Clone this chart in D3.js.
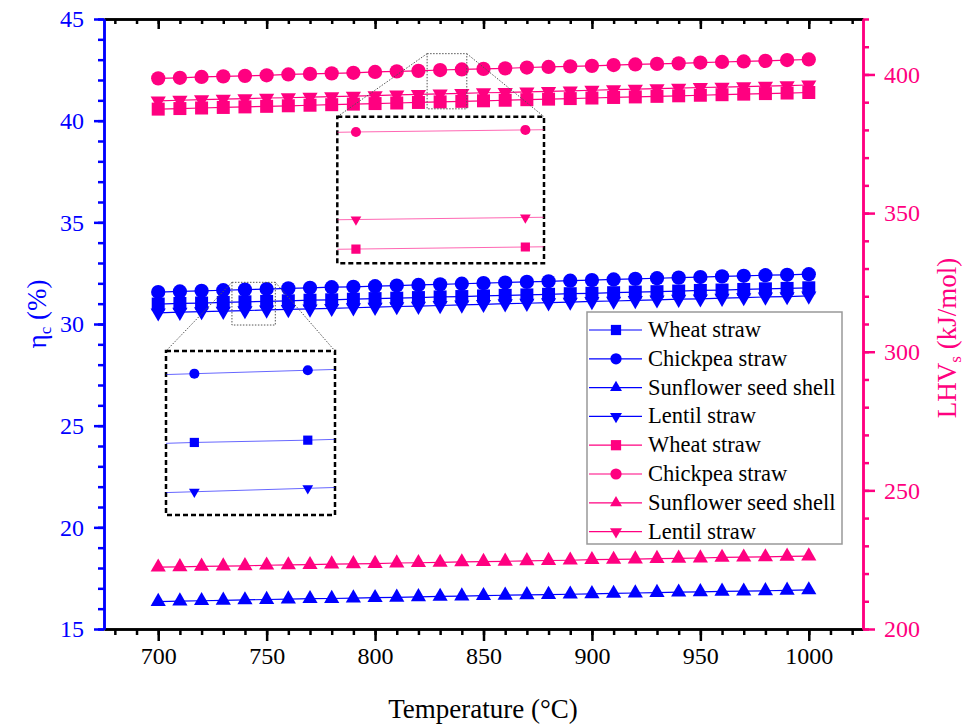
<!DOCTYPE html>
<html><head><meta charset="utf-8">
<script src="https://cdn.jsdelivr.net/npm/d3@7"></script>
<style>body{margin:0;background:#fff}svg,svg text{font-family:'Liberation Serif','Times New Roman',serif}</style>
</head><body><svg id="c" width="973" height="726"></svg>
<script>
// ---------- data ----------
const temperature = [700,710,720,730,740,750,760,770,780,790,800,810,820,830,840,850,860,870,880,890,900,910,920,930,940,950,960,970,980,990,1000];
// eta_c (%) – left axis
const etaWheat     = [30.98,31.01,31.03,31.06,31.09,31.11,31.14,31.17,31.19,31.22,31.25,31.27,31.30,31.33,31.35,31.38,31.41,31.43,31.46,31.49,31.51,31.54,31.57,31.59,31.62,31.65,31.67,31.70,31.73,31.75,31.78];
const etaChickpea  = [31.57,31.60,31.63,31.66,31.69,31.72,31.75,31.78,31.81,31.83,31.86,31.89,31.92,31.95,31.98,32.01,32.04,32.07,32.10,32.13,32.16,32.19,32.22,32.25,32.28,32.31,32.34,32.37,32.40,32.42,32.45];
const etaSunflower = [16.35,16.37,16.39,16.41,16.43,16.45,16.47,16.49,16.50,16.52,16.54,16.56,16.58,16.60,16.62,16.64,16.66,16.68,16.69,16.71,16.73,16.75,16.77,16.79,16.81,16.83,16.85,16.86,16.88,16.90,16.92];
const etaLentil    = [30.55,30.58,30.61,30.63,30.66,30.69,30.72,30.74,30.77,30.80,30.83,30.86,30.88,30.91,30.94,30.97,31.00,31.02,31.05,31.08,31.11,31.13,31.16,31.19,31.22,31.24,31.27,31.30,31.33,31.35,31.38];
// LHV_s (kJ/mol) – right axis
const lhvWheat     = [387.5,387.7,387.9,388.1,388.3,388.5,388.7,388.9,389.1,389.3,389.5,389.7,389.9,390.1,390.3,390.5,390.7,390.9,391.1,391.3,391.5,391.7,391.9,392.1,392.3,392.5,392.7,392.9,393.1,393.3,393.5];
const lhvChickpea  = [398.6,398.8,399.1,399.3,399.5,399.7,400.0,400.2,400.4,400.6,400.9,401.1,401.3,401.6,401.8,402.0,402.2,402.5,402.7,402.9,403.1,403.4,403.6,403.8,404.0,404.3,404.5,404.7,404.9,405.2,405.4];
const lhvSunflower = [222.3,222.4,222.6,222.7,222.8,223.0,223.1,223.2,223.4,223.5,223.6,223.8,223.9,224.0,224.2,224.3,224.4,224.6,224.7,224.8,225.0,225.1,225.2,225.4,225.5,225.6,225.8,225.9,226.0,226.2,226.3];
const lhvLentil    = [390.5,390.7,390.9,391.1,391.3,391.5,391.6,391.8,392.0,392.2,392.4,392.6,392.8,393.0,393.2,393.4,393.5,393.7,393.9,394.1,394.3,394.5,394.7,394.9,395.1,395.3,395.4,395.6,395.8,396.0,396.2];

const seriesNames = ["Wheat straw","Chickpea straw","Sunflower seed shell","Lentil straw"];
const seriesShapes = ["square","circle","triangle","down"];
const xTicks = [700,750,800,850,900,950,1000];
const xMinorTicks = [680,690,700,710,720,730,740,750,760,770,780,790,800,810,820,830,840,850,860,870,880,890,900,910,920,930,940,950,960,970,980,990,1000,1010,1020];
const leftTicks = [15,20,25,30,35,40,45];
const leftMinorTicks = [15,16,17,18,19,20,21,22,23,24,25,26,27,28,29,30,31,32,33,34,35,36,37,38,39,40,41,42,43,44,45];
const rightTicks = [200,250,300,350,400];
const rightMinorTicks = [200,210,220,230,240,250,260,270,280,290,300,310,320,330,340,350,360,370,380,390,400,410,420];

// ---------- setup ----------
const FONT = "'Liberation Serif','Times New Roman',serif";
const BLUE = "#0000ff", PINK = "#ff0080";
const L = 104, R = 863, T = 19, B = 629;
const svg = d3.select("#c");
const x  = d3.scaleLinear().domain([675,1025]).range([L,R]);
const yL = d3.scaleLinear().domain([15,45]).range([B,T]);
const yR = d3.scaleLinear().domain([200,420]).range([B,T]);

const blueSeries = [etaWheat, etaChickpea, etaSunflower, etaLentil].map((v,i)=>({name:seriesNames[i],shape:seriesShapes[i],values:v,color:BLUE,y:yL}));
const pinkSeries = [lhvWheat, lhvChickpea, lhvSunflower, lhvLentil].map((v,i)=>({name:seriesNames[i],shape:seriesShapes[i],values:v,color:PINK,y:yR}));
const allSeries = blueSeries.concat(pinkSeries);

function symPath(shape, scale){
  const base = {square:169, circle:160, triangle:100, down:100}[shape]*scale;
  const t = {square:d3.symbolSquare, circle:d3.symbolCircle, triangle:d3.symbolTriangle, down:d3.symbolTriangle}[shape];
  return d3.symbol().type(t).size(base)();
}
function symTransform(shape, px, py){
  return `translate(${px},${py})` + (shape==="down" ? " rotate(180)" : "");
}

// ---------- axes ----------
function styleAxis(g, color, width){
  g.attr("font-family", FONT).attr("font-size", 24);
  g.select(".domain").attr("stroke", color).attr("stroke-width", width);
  g.selectAll(".tick line").attr("stroke", color).attr("stroke-width", width);
  g.selectAll(".tick text").attr("fill", color).attr("font-family", FONT).attr("font-size",24);
}
const fmt = d3.format("d");
// bottom
const gbMinor = svg.append("g").attr("transform",`translate(0,${B})`)
  .call(d3.axisBottom(x).tickValues(xMinorTicks).tickSize(6).tickFormat("").tickSizeOuter(0));
styleAxis(gbMinor,"#000",2.5);
const gb = svg.append("g").attr("transform",`translate(0,${B})`)
  .call(d3.axisBottom(x).tickValues(xTicks).tickSize(12).tickPadding(6).tickFormat(fmt).tickSizeOuter(0));
styleAxis(gb,"#000",2.5);
// top (inward ticks)
const gtMinor = svg.append("g").attr("transform",`translate(0,${T})`)
  .call(d3.axisTop(x).tickValues(xMinorTicks).tickSize(-5).tickFormat("").tickSizeOuter(0));
styleAxis(gtMinor,"#000",2.5);
const gt = svg.append("g").attr("transform",`translate(0,${T})`)
  .call(d3.axisTop(x).tickValues(xTicks).tickSize(-10).tickFormat("").tickSizeOuter(0));
styleAxis(gt,"#000",2.5);
// left
const glMinor = svg.append("g").attr("transform",`translate(${L},0)`)
  .call(d3.axisLeft(yL).tickValues(leftMinorTicks).tickSize(6).tickFormat("").tickSizeOuter(0));
styleAxis(glMinor,BLUE,2.5);
const gl = svg.append("g").attr("transform",`translate(${L},0)`)
  .call(d3.axisLeft(yL).tickValues(leftTicks).tickSize(10).tickPadding(10).tickFormat(fmt).tickSizeOuter(0));
styleAxis(gl,BLUE,2.5);
// right
const grMinor = svg.append("g").attr("transform",`translate(${R},0)`)
  .call(d3.axisRight(yR).tickValues(rightMinorTicks).tickSize(6).tickFormat("").tickSizeOuter(0));
styleAxis(grMinor,PINK,2.5);
const gr = svg.append("g").attr("transform",`translate(${R},0)`)
  .call(d3.axisRight(yR).tickValues(rightTicks).tickSize(12).tickPadding(9).tickFormat(fmt).tickSizeOuter(0));
styleAxis(gr,PINK,2.5);

// ---------- series ----------
const gSeries = svg.append("g");
allSeries.forEach(s=>{
  const line = d3.line().x((d,i)=>x(temperature[i])).y(d=>s.y(d));
  gSeries.append("path").datum(s.values).attr("d",line).attr("fill","none")
    .attr("stroke",s.color).attr("stroke-width",1.2);
});
allSeries.forEach(s=>{
  gSeries.append("g").selectAll("path").data(s.values).join("path")
    .attr("d",symPath(s.shape,1))
    .attr("transform",(d,i)=>symTransform(s.shape,x(temperature[i]),s.y(d)))
    .attr("fill",s.color);
});

// ---------- insets ----------
const insets = [
  {id:"ib", srcX:[734,754], srcY:[29.95,32.05], yMain:yL, frame:[166,351,335,515],
   inX:[737.5,752.4], inY:[30.457,31.888], series:[blueSeries[1],blueSeries[0],blueSeries[3]]},
  {id:"ip", srcX:[824,842.3], srcY:[387.6,407.5], yMain:yR, frame:[337.3,116.7,544,263.3],
   inX:[828.9,841.1], inY:[388.7,403.1], series:[pinkSeries[1],pinkSeries[3],pinkSeries[0]]}
];
const defs = svg.append("defs");
insets.forEach(c=>{
  const g = svg.append("g");
  const sx0 = x(c.srcX[0]), sx1 = x(c.srcX[1]), sy0 = c.yMain(c.srcY[1]), sy1 = c.yMain(c.srcY[0]);
  const [fx0,fy0,fx1,fy1] = c.frame;
  g.append("rect").attr("x",sx0).attr("y",sy0).attr("width",sx1-sx0).attr("height",sy1-sy0)
    .attr("fill","none").attr("stroke","#555").attr("stroke-width",1).attr("stroke-dasharray","1.5,1.5");
  [[sx0,fx0],[sx1,fx1]].forEach(([a,b])=>{
    g.append("line").attr("x1",a).attr("y1",sy0).attr("x2",b).attr("y2",fy0)
      .attr("stroke","#555").attr("stroke-width",1).attr("stroke-dasharray","1.5,1.5");
  });
  g.append("rect").attr("x",fx0).attr("y",fy0).attr("width",fx1-fx0).attr("height",fy1-fy0)
    .attr("fill","#fff").attr("stroke","#000").attr("stroke-width",2.5).attr("stroke-dasharray","5,3");
  defs.append("clipPath").attr("id",c.id).append("rect")
    .attr("x",fx0).attr("y",fy0).attr("width",fx1-fx0).attr("height",fy1-fy0);
  const ix = d3.scaleLinear().domain(c.inX).range([fx0,fx1]);
  const iy = d3.scaleLinear().domain(c.inY).range([fy1,fy0]);
  const gi = g.append("g").attr("clip-path",`url(#${c.id})`);
  c.series.forEach(s=>{
    const line = d3.line().x((d,i)=>ix(temperature[i])).y(d=>iy(d));
    gi.append("path").datum(s.values).attr("d",line).attr("fill","none")
      .attr("stroke",s.color).attr("stroke-width",1).attr("stroke-opacity",0.6);
    const pts = s.values.map((v,i)=>({t:temperature[i],v})).filter(p=>p.t>=c.inX[0]&&p.t<=c.inX[1]);
    gi.selectAll(null).data(pts).join("path")
      .attr("d",symPath(s.shape,0.5))
      .attr("transform",p=>symTransform(s.shape,ix(p.t),iy(p.v)))
      .attr("fill",s.color);
  });
});

// ---------- legend ----------
const lg = svg.append("g");
const lx0 = 587, ly0 = 312, lw = 255, lh = 232, rowH = 28.8;
lg.append("rect").attr("x",lx0).attr("y",ly0).attr("width",lw).attr("height",lh)
  .attr("fill","#fff").attr("stroke","#999").attr("stroke-width",1.5);
allSeries.forEach((s,i)=>{
  const cy = ly0 + 18 + i*rowH;
  lg.append("line").attr("x1",lx0+2).attr("x2",lx0+55).attr("y1",cy).attr("y2",cy)
    .attr("stroke",s.color).attr("stroke-width",1.2);
  lg.append("path").attr("d",symPath(s.shape,0.62)).attr("transform",symTransform(s.shape,lx0+29,cy)).attr("fill",s.color);
  lg.append("text").attr("x",lx0+61).attr("y",cy+7).attr("font-family",FONT).attr("font-size",22.5).attr("fill","#000").text(s.name);
});

// ---------- axis titles ----------
const tl = svg.append("text").attr("transform","translate(46,314) rotate(-90)")
  .attr("text-anchor","middle").attr("font-family",FONT).attr("font-size",27).attr("fill",BLUE);
tl.append("tspan").text("η");
tl.append("tspan").attr("font-size",17).attr("dy",5).text("c");
tl.append("tspan").attr("dy",-5).text(" (%)");
const tr = svg.append("text").attr("transform","translate(956,338) rotate(-90)")
  .attr("text-anchor","middle").attr("font-family",FONT).attr("font-size",27).attr("fill",PINK);
tr.append("tspan").text("LHV");
tr.append("tspan").attr("font-size",17).attr("dy",5).text("s");
tr.append("tspan").attr("dy",-5).text(" (kJ/mol)");
svg.append("text").attr("x",483).attr("y",718).attr("text-anchor","middle").attr("font-family",FONT)
  .attr("font-size",27).attr("fill","#000").text("Temperature (°C)");
</script></body></html>
